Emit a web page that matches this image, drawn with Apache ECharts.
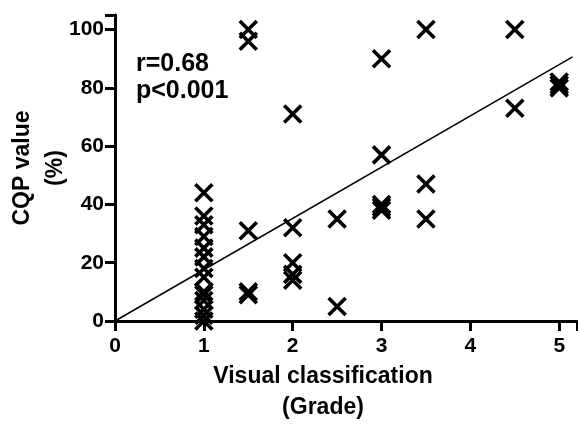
<!DOCTYPE html>
<html>
<head>
<meta charset="utf-8">
<script src="https://cdn.jsdelivr.net/npm/echarts@6/dist/echarts.min.js"></script>
<style>html,body{margin:0;padding:0;background:#fff;}#c{width:578px;height:430px;}</style>
</head>
<body>
<div id="c"></div>
<script>
// Data
var gradeX = [1,1,1,1,1,1,1,1,1,1,1,1,1,1,
              1.5,1.5,1.5,1.5,1.5,
              2,2,2,2,2,
              2.5,2.5,
              3,3,3,3,3,
              3.5,3.5,3.5,
              4.5,4.5,
              5,5,5];
var cqpY = [44,36,33,29,25,22,18,15,10,9,7,4,2,0,
            100,96,31,10,9,
            71,32,20,16,14,
            35,5,
            90,57,40,39,38,
            100,47,35,
            100,73,
            82,81,80];
var fitLineX = [0, 5.15];
var fitLineY = [0, 90.6];
var xTicks = [0,1,2,3,4,5];
var yTicks = [0,20,40,60,80,100];
var statsText = ['r=0.68', 'p<0.001'];

var pts = gradeX.map(function(x,i){return [x, cqpY[i]];});
var fit = fitLineX.map(function(x,i){return [x, fitLineY[i]];});

var FONT = '"Liberation Sans", Arial, sans-serif';
var axisLbl = {color:'#000', fontFamily:FONT, fontWeight:'bold', fontSize:21};

var chart = echarts.init(document.getElementById('c'), null, {renderer:'canvas'});
chart.setOption({
  animation:false,
  backgroundColor:'#fff',
  grid:{left:115, right:1, top:15, bottom:109, containLabel:false, outerBoundsMode:'none'},
  xAxis:{
    type:'value', min:0, max:5.2, interval:1,
    axisLine:{show:true, onZero:false, lineStyle:{color:'#000', width:3}},
    axisTick:{show:true, length:10, lineStyle:{color:'#000', width:3}},
    splitLine:{show:false},
    axisLabel:Object.assign({margin:15, formatter:function(v){return xTicks.indexOf(v)>=0 ? String(v) : '';}}, axisLbl),
    name:'Visual classification\n(Grade)',
    nameLocation:'middle', nameGap:40, nameMoveOverlap:false,
    nameTextStyle:{color:'#000', fontFamily:FONT, fontWeight:'bold', fontSize:23, lineHeight:31, padding:[0,46,0,0]}
  },
  yAxis:{
    type:'value', min:0, max:105, interval:20,
    axisLine:{show:true, onZero:false, lineStyle:{color:'#000', width:3}},
    axisTick:{show:true, length:10, lineStyle:{color:'#000', width:3}},
    splitLine:{show:false},
    axisLabel:Object.assign({margin:11, formatter:function(v){return yTicks.indexOf(v)>=0 ? String(v) : '';}}, axisLbl),
    name:'CQP value\n(%)',
    nameLocation:'middle', nameGap:43, nameRotate:90, nameMoveOverlap:false,
    nameTextStyle:{color:'#000', fontFamily:FONT, fontWeight:'bold', fontSize:23, lineHeight:33}
  },
  graphic:[{
    type:'text', left:136, top:51,
    style:{text:statsText.join('\n'), fill:'#000', font:'bold 25px '+FONT, lineHeight:27}
  }],
  series:[
    {
      type:'line', data:fit, showSymbol:false, symbol:'none',
      lineStyle:{color:'#000', width:1.5}, z:1, silent:true
    },
    {
      type:'scatter', data:pts,
      symbol:'path://M0,0L10,10M10,0L0,10',
      symbolSize:17,
      itemStyle:{color:'rgba(0,0,0,0)', borderColor:'#000', borderWidth:3.6, opacity:1},
      z:2
    }
  ]
});
</script>
</body>
</html>
